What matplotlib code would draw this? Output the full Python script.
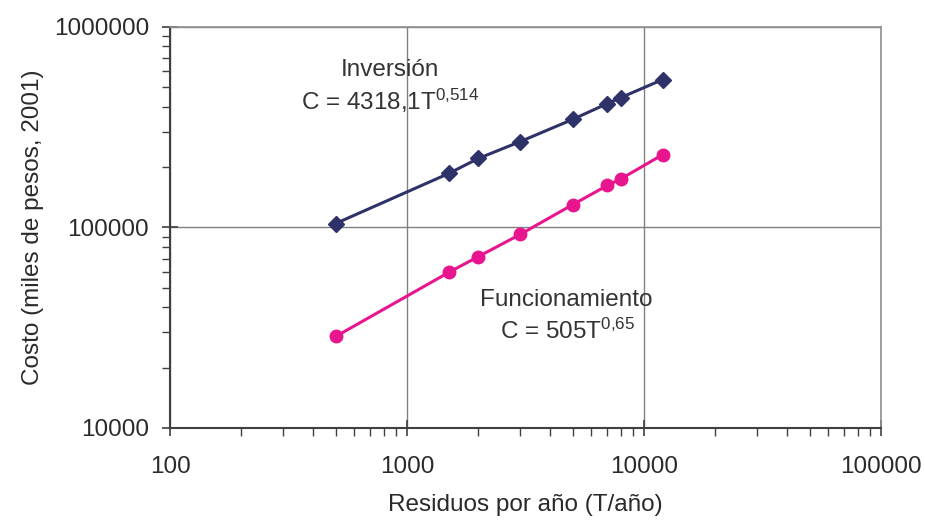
import matplotlib
matplotlib.use("Agg")
import matplotlib.pyplot as plt
from matplotlib.ticker import LogLocator, FixedLocator, FuncFormatter, NullFormatter

plt.rcParams['font.family'] = ['Liberation Sans', 'DejaVu Sans']
plt.rcParams['mathtext.fontset'] = 'custom'
plt.rcParams['mathtext.rm'] = 'Liberation Sans'
plt.rcParams['mathtext.it'] = 'Liberation Sans'
plt.rcParams['mathtext.default'] = 'rm'

residuos = [500, 1500, 2000, 3000, 5000, 7000, 8000, 12000]
inversion = [104700, 186000, 221000, 268000, 346000, 415000, 445000, 547000]
funcionamiento = [28600, 59700, 71600, 92300, 130000, 162000, 175000, 231000]

x_ticks = [100, 1000, 10000, 100000]
y_ticks = [10000, 100000, 1000000]

navy = '#2f3268'
magenta = '#e8158f'
txt = '#2a2a2a'
FS = 17.5

fig = plt.figure(figsize=(9.25, 5.2), dpi=100)
ax = fig.add_axes([170/925, 1-428/520, (881-170)/925, (428-27)/520])
ax.set_xscale('log')
ax.set_yscale('log')
ax.set_xlim(100, 100000)
ax.set_ylim(10000, 1000000)

ax.grid(True, which='major', color='#808080', lw=1)
ax.set_axisbelow(True)

ax.plot(residuos, inversion, color=navy, lw=2.2, marker='D', ms=8, zorder=3)
ax.plot(residuos, funcionamiento, color=magenta, lw=2.2, marker='o', ms=9, zorder=3)

ax.xaxis.set_major_locator(FixedLocator(x_ticks))
ax.yaxis.set_major_locator(FixedLocator(y_ticks))
ax.xaxis.set_minor_locator(LogLocator(base=10, subs=range(2, 10)))
ax.yaxis.set_minor_locator(LogLocator(base=10, subs=range(2, 10)))
fmt = FuncFormatter(lambda v, p: f"{int(round(v))}")
ax.xaxis.set_major_formatter(fmt)
ax.yaxis.set_major_formatter(fmt)
ax.xaxis.set_minor_formatter(NullFormatter())
ax.yaxis.set_minor_formatter(NullFormatter())

ax.tick_params(which='major', direction='inout', length=12, width=1.2, color='#404040',
               labelsize=FS, labelcolor=txt, pad=9)
ax.tick_params(which='minor', direction='out', length=6, width=1, color='#404040')
ax.tick_params(axis='x', pad=14)

for s in ['left', 'bottom']:
    ax.spines[s].set_color('#404040')
    ax.spines[s].set_linewidth(1.5)
for s in ['top', 'right']:
    ax.spines[s].set_color('#909090')
    ax.spines[s].set_linewidth(1.2)

ax.set_xlabel('Residuos por año (T/año)', fontsize=FS, color=txt, labelpad=12)
ax.set_ylabel('Costo (miles de pesos, 2001)', fontsize=FS, color=txt, labelpad=7)

def px(xp, yp):
    return fig.transFigure.inverted().transform((xp, 520 - yp))

kw = dict(transform=fig.transFigure, fontsize=FS, color='#333333', ha='center', va='center')
ax.text(*px(390, 70), 'Inversión', **kw)
ax.text(*px(390, 101), r'C = 4318,1T$^{0{,}514}$', **kw)
ax.text(*px(566, 300), 'Funcionamiento', **kw)
ax.text(*px(568, 331), r'C = 505T$^{0{,}65}$', **kw)

fig.savefig('out.png', dpi=100)
